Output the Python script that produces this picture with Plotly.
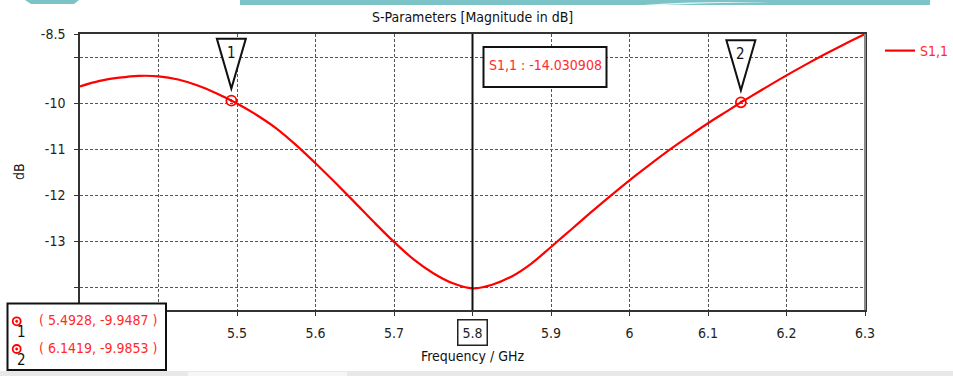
import plotly.graph_objects as go

# S1,1 magnitude sweep (GHz, dB)
freq_ghz = [5.300, 5.325, 5.350, 5.375, 5.400, 5.425, 5.450, 5.475, 5.4928, 5.500,
            5.525, 5.550, 5.575, 5.600, 5.625, 5.650, 5.675, 5.700, 5.725, 5.750,
            5.775, 5.800, 5.825, 5.850, 5.875, 5.900, 5.925, 5.950, 5.975, 6.000,
            6.025, 6.050, 6.075, 6.100, 6.125, 6.1419, 6.150, 6.175, 6.200, 6.225,
            6.250, 6.275, 6.300]
s11_db = [-9.64, -9.52, -9.45, -9.41, -9.42, -9.49, -9.62, -9.80, -9.9487, -10.01,
          -10.26, -10.55, -10.91, -11.31, -11.73, -12.16, -12.60, -13.02, -13.40, -13.70,
          -13.92, -14.03, -13.95, -13.77, -13.49, -13.13, -12.76, -12.39, -12.03, -11.68,
          -11.35, -11.03, -10.73, -10.44, -10.17, -9.9853, -9.905, -9.65, -9.40, -9.16,
          -8.93, -8.71, -8.50]

# Markers placed on the curve
marker_ids = ["1", "2"]
marker_freq = [5.4928, 6.1419]
marker_db = [-9.9487, -9.9853]

# Cursor read-out
cursor_freq = 5.8
cursor_value = -14.030908

x_tick_vals = [5.3, 5.4, 5.5, 5.6, 5.7, 5.8, 5.9, 6.0, 6.1, 6.2, 6.3]
x_tick_text = ["", "", "5.5", "5.6", "5.7", "", "5.9", "6", "6.1", "6.2", "6.3"]
y_tick_vals = [-14, -13, -12, -11, -10, -9, -8.5]
y_tick_text = ["", "-13", "-12", "-11", "-10", "", "-8.5"]

W, H = 953, 376
ML, MR, MT, MB = 80, 88, 34, 66
PW, PH = W - ML - MR, H - MT - MB

FONT = "DejaVu Sans Condensed, Liberation Sans Narrow, DejaVu Sans, sans-serif"
RED = "#ff0000"
TXT_RED = "#ff2a2a"
INK = "#111111"


def px(X):
    return (X - ML) / PW


def py(Y):
    return (H - MB - Y) / PH


def label(x, y, text, size=14, color=INK, xref="paper", yref="paper", **kw):
    opts = dict(x=x, y=y, xref=xref, yref=yref, text=text, showarrow=False,
                xanchor="center", yanchor="middle",
                font=dict(family=FONT, size=size, color=color))
    opts.update(kw)
    return opts


fig = go.Figure()

fig.add_trace(go.Scatter(
    x=freq_ghz, y=s11_db, mode="lines", name="S1,1",
    line=dict(color=RED, width=2.2, shape="spline", smoothing=1.0),
))

fig.add_trace(go.Scatter(
    x=marker_freq, y=marker_db, mode="markers", showlegend=False,
    marker=dict(symbol="circle-open-dot", size=10, color=RED,
                line=dict(color=RED, width=1.8)),
))

shapes = []
annotations = []

# decorative band along the top edge
TEAL = "#7cc3c8"
shapes.append(dict(type="path", xref="paper", yref="paper", layer="above",
                   path=f"M {px(25)} {py(0)} L {px(79)} {py(0)} L {px(74)} {py(4)} L {px(31)} {py(4)} Z",
                   fillcolor=TEAL, line=dict(width=0)))
shapes.append(dict(type="rect", xref="paper", yref="paper", layer="above",
                   x0=px(240), x1=px(930), y0=py(5), y1=py(0),
                   fillcolor=TEAL, line=dict(width=0)))
shapes.append(dict(type="path", xref="paper", yref="paper", layer="above",
                   path=(f"M {px(640)} {py(5.2)} Q {px(700)} {py(0.5)} {px(770)} {py(2.5)} "
                         f"Q {px(705)} {py(2.8)} {px(660)} {py(5.2)} Z"),
                   fillcolor="#e8f4f5", line=dict(width=0)))

# light strip along the bottom edge
shapes.append(dict(type="rect", xref="paper", yref="paper", layer="below",
                   x0=px(0), x1=px(W), y0=py(H), y1=py(371),
                   fillcolor="#e8e8e8", line=dict(width=0)))
shapes.append(dict(type="rect", xref="paper", yref="paper", layer="below",
                   x0=px(188), x1=px(347), y0=py(H), y1=py(372),
                   fillcolor="#f6f6f6", line=dict(width=0)))

# right border in grey
shapes.append(dict(type="line", xref="paper", yref="paper", layer="above",
                   x0=1, x1=1, y0=0, y1=1, line=dict(color="#8a8a8a", width=2)))

# cursor line
shapes.append(dict(type="line", xref="x", yref="paper", layer="above",
                   x0=cursor_freq, x1=cursor_freq, y0=0, y1=1,
                   line=dict(color=INK, width=2)))

# marker flags
for mid, mf, md in zip(marker_ids, marker_freq, marker_db):
    shapes.append(dict(type="path", xref="x", yref="y", layer="above",
                       xsizemode="pixel", ysizemode="pixel", xanchor=mf, yanchor=md,
                       path="M -14.5 62 L 14.5 62 L 0 12 Z",
                       fillcolor="white", line=dict(color=INK, width=2)))
    annotations.append(label(mf, md, mid, size=15, xref="x", yref="y", yshift=48))

# cursor value box
shapes.append(dict(type="rect", xref="paper", yref="paper", layer="above",
                   x0=px(483.5), x1=px(606.5), y0=py(87), y1=py(47),
                   fillcolor="white", line=dict(color=INK, width=2)))
annotations.append(label(px(545), py(64.5), f"S1,1 : {cursor_value:.6f}", color=TXT_RED))

# boxed cursor tick label
annotations.append(label(cursor_freq, py(332.5), "5.8", color="#222222", xref="x",
                         bgcolor="white", bordercolor="#222222", borderwidth=1.5,
                         borderpad=4))

# marker table at lower left
shapes.append(dict(type="rect", xref="paper", yref="paper", layer="above",
                   x0=px(7.5), x1=px(166), y0=py(370), y1=py(303.5),
                   fillcolor="white", line=dict(color=INK, width=2)))
for i, (mid, mf, md) in enumerate(zip(marker_ids, marker_freq, marker_db)):
    cy = 321.3 + i * 27.7
    shapes.append(dict(type="circle", xref="paper", yref="paper", layer="above",
                       x0=px(12.7), x1=px(20.7), y0=py(cy + 4), y1=py(cy - 4),
                       line=dict(color=RED, width=1.8)))
    shapes.append(dict(type="circle", xref="paper", yref="paper", layer="above",
                       x0=px(15.5), x1=px(17.9), y0=py(cy + 1.2), y1=py(cy - 1.2),
                       fillcolor=RED, line=dict(color=RED, width=0.5)))
    annotations.append(label(px(21), py(cy + 11), mid, size=15))
    annotations.append(label(px(37), py(cy - 1), f"( {mf:.4f}, {md:.4f} )",
                             color=TXT_RED, xanchor="left"))

# titles
annotations.append(label(px(472.5), py(17), "S-Parameters [Magnitude in dB]"))
annotations.append(label(px(472), py(356), "Frequency / GHz"))
annotations.append(label(px(19), py(172), "dB", textangle=-90))

grid = dict(showgrid=True, gridcolor="#555555", gridwidth=1, griddash="3px,2px",
            zeroline=False, showline=True, linecolor="#333333", linewidth=1.5,
            mirror=True, ticks="outside", ticklen=4, tickcolor="#333333",
            tickfont=dict(family=FONT, size=14, color="#222222"))

fig.update_layout(
    width=W, height=H, autosize=False,
    margin=dict(l=ML, r=MR, t=MT, b=MB, autoexpand=False),
    paper_bgcolor="white", plot_bgcolor="white",
    font=dict(family=FONT, size=14, color="#222222"),
    xaxis=dict(range=[5.3, 6.3], tickmode="array", tickvals=x_tick_vals,
               ticktext=x_tick_text, ticklabelstandoff=5, automargin=False, **grid),
    yaxis=dict(range=[-14.5, -8.5], tickmode="array", tickvals=y_tick_vals,
               ticktext=y_tick_text, ticklabelstandoff=6, automargin=False, **grid),
    legend=dict(x=px(880), y=py(51), xanchor="left", yanchor="middle",
                bgcolor="rgba(0,0,0,0)", borderwidth=0,
                font=dict(family=FONT, size=14, color=TXT_RED)),
    showlegend=True,
    shapes=shapes,
    annotations=annotations,
)

fig.write_html("out.html")
